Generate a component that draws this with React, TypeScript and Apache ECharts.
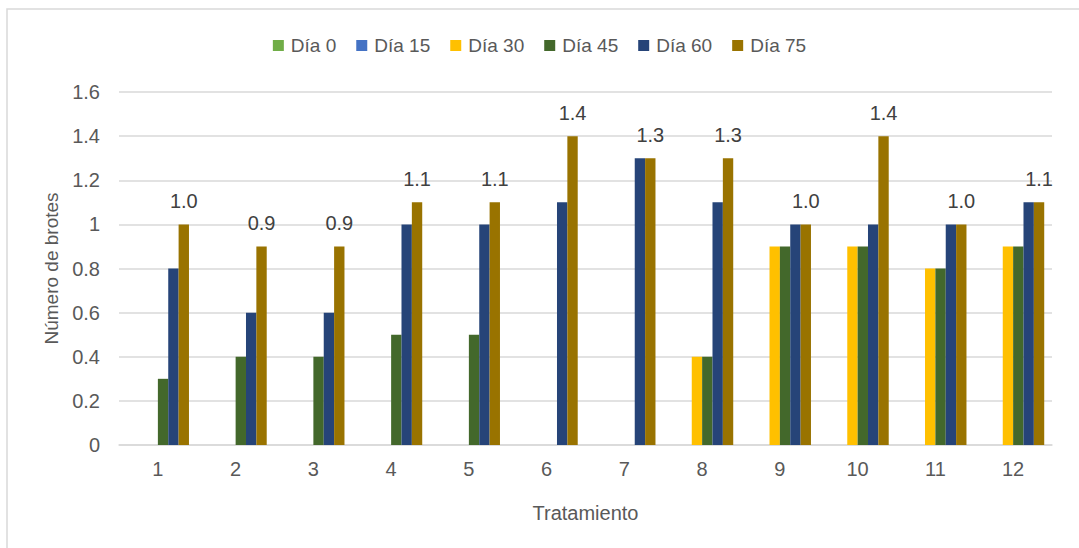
import React, { useEffect, useRef } from "react";
import * as echarts from "echarts";

const categories = ["1", "2", "3", "4", "5", "6", "7", "8", "9", "10", "11", "12"];
const seriesNames = ["Día 0", "Día 15", "Día 30", "Día 45", "Día 60", "Día 75"];
const dia0 = [0, 0, 0, 0, 0, 0, 0, 0, 0, 0, 0, 0];
const dia15 = [0, 0, 0, 0, 0, 0, 0, 0, 0, 0, 0, 0];
const dia30 = [0, 0, 0, 0, 0, 0, 0, 0.4, 0.9, 0.9, 0.8, 0.9];
const dia45 = [0.3, 0.4, 0.4, 0.5, 0.5, 0, 0, 0.4, 0.9, 0.9, 0.8, 0.9];
const dia60 = [0.8, 0.6, 0.6, 1.0, 1.0, 1.1, 1.3, 1.1, 1.0, 1.0, 1.0, 1.1];
const dia75 = [1.0, 0.9, 0.9, 1.1, 1.1, 1.4, 1.3, 1.3, 1.0, 1.4, 1.0, 1.1];
const colors = ["#70AD47", "#4472C4", "#FFC000", "#43682B", "#264478", "#997300"];
const yTicks = [0, 0.2, 0.4, 0.6, 0.8, 1, 1.2, 1.4, 1.6];

const FONT = "'Liberation Sans', Arial, sans-serif";
const TXT = "#595959";

export default function App() {
  const ref = useRef<HTMLDivElement>(null);
  useEffect(() => {
    if (!ref.current) return;
    const chart = echarts.init(ref.current, null, { renderer: "svg" });
    const allData = [dia0, dia15, dia30, dia45, dia60, dia75];
    chart.setOption({
      animation: false,
      backgroundColor: "#ffffff",
      textStyle: { fontFamily: FONT },
      graphic: [
        {
          type: "rect",
          shape: { x: 7, y: 9, width: 1200, height: 700 },
          style: { fill: "none", stroke: "#d9d9d9", lineWidth: 1.5 },
          silent: true,
        },
      ],
      legend: {
        data: seriesNames,
        top: 31,
        left: "center",
        itemWidth: 11,
        itemHeight: 11,
        itemGap: 20,
        icon: "rect",
        textStyle: { fontSize: 19, color: TXT, fontFamily: FONT, padding: [0, 0, 0, 2] },
      },
      grid: { left: 119, right: 27, top: 92, bottom: 103, containLabel: false },
      xAxis: {
        type: "category",
        data: categories,
        name: "Tratamiento",
        nameLocation: "middle",
        nameGap: 58,
        nameTextStyle: { fontSize: 20, color: TXT, fontFamily: FONT },
        axisLine: { lineStyle: { color: "#d9d9d9", width: 1.5 } },
        axisTick: { show: false },
        axisLabel: { fontSize: 20, color: TXT, margin: 14, fontFamily: FONT },
      },
      yAxis: {
        type: "value",
        min: yTicks[0],
        max: yTicks[yTicks.length - 1],
        interval: 0.2,
        name: "Número de brotes",
        nameLocation: "middle",
        nameGap: 57,
        nameTextStyle: { fontSize: 19, color: TXT, fontFamily: FONT },
        axisLine: { show: false },
        axisTick: { show: false },
        splitLine: { lineStyle: { color: "#d9d9d9", width: 1.5 } },
        axisLabel: {
          fontSize: 20,
          color: TXT,
          margin: 19,
          fontFamily: FONT,
          formatter: (v: number) => (Math.abs(v - 1) < 1e-9 ? "1" : v === 0 ? "0" : v.toFixed(1)),
        },
      },
      series: seriesNames.map((name, i) => ({
        name,
        type: "bar",
        data: allData[i],
        barGap: "0%",
        barCategoryGap: "20%",
        itemStyle: { color: colors[i] },
        label:
          i === 5
            ? {
                show: true,
                position: "top",
                distance: 13,
                fontSize: 20,
                color: "#404040",
                fontFamily: FONT,
                formatter: (p: any) => Number(p.value).toFixed(1),
              }
            : { show: false },
      })),
    });
    return () => chart.dispose();
  }, []);
  return (
    <div
      ref={ref}
      style={{ position: "fixed", left: 0, top: 0, width: 1079, height: 548 }}
    />
  );
}
